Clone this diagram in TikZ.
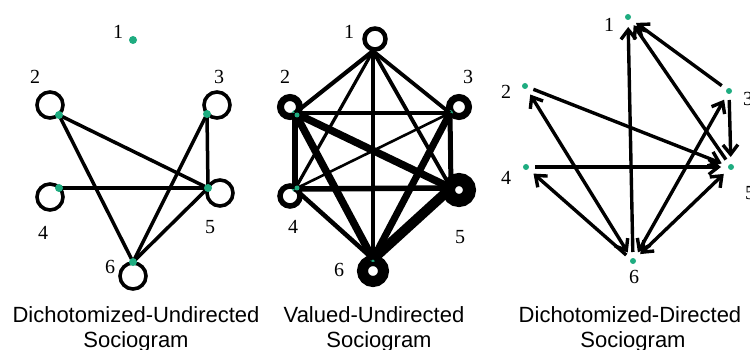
\documentclass[tikz,border=0pt]{standalone}
\usepackage{fontspec}
\usetikzlibrary{arrows.meta}
\newfontfamily\capfont{Liberation Sans}
\newfontfamily\labfont{Liberation Serif}
\definecolor{dotgreen}{RGB}{30,172,128}
\tikzset{
  dot/.style={circle,fill=dotgreen,inner sep=0pt,minimum size=8pt},
  sdot/.style={circle,fill=dotgreen,inner sep=0pt,minimum size=6pt},
  loopc/.style={circle,draw=black,line width=3.6pt,inner sep=0pt,minimum size=26pt},
  ring/.style={circle,draw=black,fill=white,inner sep=0pt},
  edge/.style={line width=3.5pt,black},
  lab/.style={font=\labfont\fontsize{20}{20}\selectfont,inner sep=0pt},
  captxt/.style={font=\capfont\fontsize{22}{22}\selectfont,inner sep=0pt,anchor=base},
  arr/.style={line width=3.4pt,black,-{Straight Barb[length=9.5pt,width=15pt]},shorten >=10pt,shorten <=9pt},
  darr/.style={line width=3.4pt,black,{Straight Barb[length=9.5pt,width=15pt]}-{Straight Barb[length=9.5pt,width=15pt]},shorten >=10pt,shorten <=10pt}
}
\begin{document}
\begin{tikzpicture}[x=1pt,y=-1pt]
\useasboundingbox (0,0) rectangle (750,350);
\fill[white] (0,0) rectangle (750,350);

% ---------- Panel 1: Dichotomized-Undirected ----------
\coordinate (a1) at (133,40);
\coordinate (a2) at (59,115);
\coordinate (a3) at (207,114);
\coordinate (a4) at (59,188);
\coordinate (a5) at (208,188);
\coordinate (a6) at (133,262);
\node[loopc] (l2) at (50,105) {};
\node[loopc] (l3) at (217,105) {};
\node[loopc] (l4) at (50,197) {};
\node[loopc] (l5) at (220,193) {};
\node[loopc] (l6) at (133,276) {};
\draw[edge] (a2) -- (a5);
\draw[edge] (a2) -- (a6);
\draw[edge] (a4) -- (a5);
\draw[edge] (a3) -- (a5);
\draw[edge] (a3) -- (a6);
\draw[edge] (a5) -- (a6);
\node[dot] (d1) at (a1) {};
\node[dot] (d2) at (a2) {};
\node[dot] (d3) at (a3) {};
\node[dot] (d4) at (a4) {};
\node[dot] (d5) at (a5) {};
\node[dot] (d6) at (a6) {};
\node[lab] (t1) at (118,32) {1};
\node[lab] (t2) at (35,77) {2};
\node[lab] (t3) at (219,77) {3};
\node[lab] (t4) at (43,233) {4};
\node[lab] (t5) at (210,227) {5};
\node[lab] (t6) at (110,267) {6};

% ---------- Panel 2: Valued-Undirected ----------
\coordinate (b1) at (373,51);
\coordinate (b2) at (295,113);
\coordinate (b3) at (450,113);
\coordinate (b4) at (295,189);
\coordinate (b5) at (451,188);
\coordinate (b6) at (373,259);
\node[ring,line width=4.5pt,minimum size=21pt] (r1) at (375,39) {};
\node[ring,line width=7pt,minimum size=19pt] (r2) at (290,107) {};
\node[ring,line width=7pt,minimum size=19pt] (r3) at (459,107) {};
\node[ring,line width=5.5pt,minimum size=20pt] (r4) at (290,196) {};
\node[ring,line width=13pt,minimum size=21pt] (r5) at (459,190) {};
\node[ring,line width=11pt,minimum size=21pt] (r6) at (373,271) {};
\node[sdot] (e2) at (b2) {};
\node[sdot] (e3) at (b3) {};
\node[sdot] (e4) at (b4) {};
\node[sdot] (e6) at (b6) {};
\draw[black,line width=4.2pt] (b1) -- (b2);
\draw[black,line width=3.8pt] (b1) -- (b3);
\draw[black,line width=3.2pt] (b1) -- (b4);
\draw[black,line width=3.8pt] (b1) -- (b5);
\draw[black,line width=4.2pt] (b1) -- (b6);
\draw[black,line width=4.5pt] (b2) -- (b3);
\draw[black,line width=6.5pt] (b2) -- (b4);
\draw[black,line width=7.5pt] (b2) -- (b5);
\draw[black,line width=7.5pt] (b2) -- (b6);
\draw[black,line width=2.6pt] (b3) -- (b4);
\draw[black,line width=5pt] (b3) -- (b5);
\draw[black,line width=7pt] (b3) -- (b6);
\draw[black,line width=5.5pt] (b4) -- (b5);
\draw[black,line width=4.5pt] (b4) -- (b6);
\draw[black,line width=10pt] (b5) -- (b6);
\node[sdot,minimum size=5pt] (f2) at (297,115) {};
\node[sdot,minimum size=5pt] (f4) at (297,188) {};
\node[lab] (u1) at (349,32) {1};
\node[lab] (u2) at (285,77) {2};
\node[lab] (u3) at (468,77) {3};
\node[lab] (u4) at (293,227) {4};
\node[lab] (u5) at (460,237) {5};
\node[lab] (u6) at (339,270) {6};

% ---------- Panel 3: Dichotomized-Directed ----------
\node[sdot] (c1) at (628,17) {};
\node[sdot] (c2) at (525,86) {};
\node[sdot] (c3) at (729,91) {};
\node[sdot] (c4) at (526,167) {};
\node[sdot] (c5) at (731,167) {};
\node[sdot] (c6) at (633,261) {};
\draw[arr] (c6.center) -- (c1.center);
\draw[arr] (c3.center) -- (c1.center);
\draw[arr] (c5.center) -- (c1.center);
\draw[arr] (c3.center) -- (c5.center);
\draw[arr] (c2.center) -- (c5.center);
\draw[arr] (c4.center) -- (c5.center);
\draw[arr] (c6.center) -- (c4.center);
\draw[darr] (c2.center) -- (c6.center);
\draw[darr] (c3.center) -- (c6.center);
\draw[darr] (c5.center) -- (c6.center);
\node[lab] (v1) at (609,25) {1};
\node[lab] (v2) at (506,92) {2};
\node[lab,anchor=west] (v3) at (743,99) {3};
\node[lab] (v4) at (506,178) {4};
\node[lab,anchor=west] (v5) at (745,193) {5};
\node[lab] (v6) at (634,277) {6};

% ---------- Captions ----------
\node[captxt] (k1a) at (136,322) {Dichotomized-Undirected};
\node[captxt] (k1b) at (136,347) {Sociogram};
\node[captxt] (k2a) at (374,322) {Valued-Undirected};
\node[captxt] (k2b) at (379,347) {Sociogram};
\node[captxt] (k3a) at (630,322) {Dichotomized-Directed};
\node[captxt] (k3b) at (633,347) {Sociogram};
\end{tikzpicture}
\end{document}
